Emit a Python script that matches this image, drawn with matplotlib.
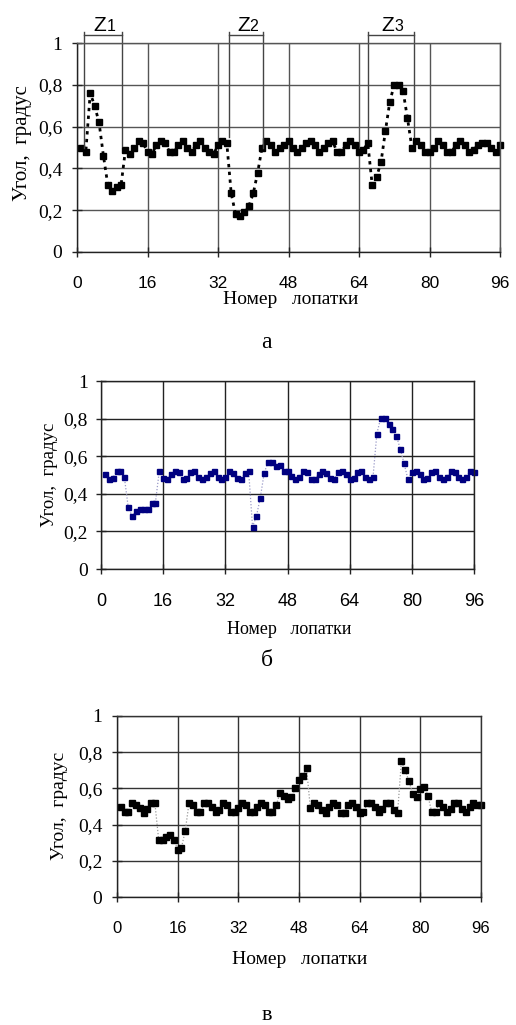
import matplotlib
matplotlib.use("Agg")
import matplotlib.pyplot as plt
import numpy as np

blades = list(range(1, 97))

angle_a = [0.50, 0.48, 0.76, 0.70, 0.62, 0.46, 0.32, 0.29, 0.31, 0.32,
           0.49, 0.47, 0.50, 0.53, 0.52, 0.48, 0.47, 0.51, 0.53, 0.52,
           0.48, 0.48, 0.51, 0.53, 0.50, 0.48, 0.51, 0.53, 0.50, 0.48,
           0.47, 0.51, 0.53, 0.52, 0.28, 0.18, 0.17, 0.19, 0.22, 0.28,
           0.38, 0.50, 0.53, 0.51, 0.48, 0.50, 0.51, 0.53, 0.50, 0.48,
           0.50, 0.52, 0.53, 0.51, 0.48, 0.50, 0.52, 0.53, 0.48, 0.48,
           0.51, 0.53, 0.51, 0.48, 0.49, 0.52, 0.32, 0.36, 0.43, 0.58,
           0.72, 0.80, 0.80, 0.77, 0.64, 0.50, 0.53, 0.51, 0.48, 0.48,
           0.50, 0.53, 0.51, 0.48, 0.48, 0.51, 0.53, 0.51, 0.48, 0.49,
           0.51, 0.52, 0.52, 0.50, 0.48, 0.51]

angle_b = [0.505, 0.477, 0.483, 0.52, 0.52, 0.49, 0.33, 0.28, 0.31, 0.32,
           0.317, 0.317, 0.35, 0.353, 0.52, 0.484, 0.477, 0.505, 0.52, 0.517,
           0.477, 0.484, 0.517, 0.52, 0.49, 0.477, 0.487, 0.51, 0.52, 0.49,
           0.477, 0.49, 0.52, 0.51, 0.484, 0.477, 0.51, 0.52, 0.226, 0.28,
           0.38, 0.51, 0.57, 0.57, 0.55, 0.555, 0.52, 0.52, 0.495, 0.477,
           0.49, 0.52, 0.517, 0.477, 0.477, 0.505, 0.52, 0.51, 0.484, 0.477,
           0.517, 0.52, 0.505, 0.477, 0.484, 0.517, 0.52, 0.49, 0.477, 0.487,
           0.72, 0.805, 0.805, 0.77, 0.747, 0.71, 0.64, 0.562, 0.477, 0.517,
           0.52, 0.505, 0.477, 0.484, 0.517, 0.52, 0.49, 0.477, 0.487, 0.52,
           0.517, 0.487, 0.477, 0.49, 0.52, 0.517]

angle_c = [0.50, 0.47, 0.47, 0.52, 0.51, 0.49, 0.465, 0.485, 0.517, 0.517,
           0.315, 0.315, 0.33, 0.34, 0.315, 0.262, 0.273, 0.365, 0.52, 0.51,
           0.47, 0.47, 0.517, 0.52, 0.495, 0.47, 0.48, 0.517, 0.51, 0.47,
           0.47, 0.49, 0.52, 0.51, 0.47, 0.47, 0.50, 0.52, 0.51, 0.47,
           0.47, 0.51, 0.572, 0.56, 0.54, 0.55, 0.60, 0.645, 0.67, 0.71,
           0.49, 0.52, 0.51, 0.48, 0.465, 0.50, 0.52, 0.51, 0.465, 0.465,
           0.51, 0.52, 0.495, 0.465, 0.47, 0.517, 0.517, 0.495, 0.47, 0.485,
           0.517, 0.517, 0.48, 0.465, 0.75, 0.70, 0.64, 0.57, 0.55, 0.595,
           0.61, 0.56, 0.47, 0.47, 0.52, 0.495, 0.47, 0.485, 0.517, 0.517,
           0.485, 0.47, 0.495, 0.52, 0.51, 0.51]

x_ticks = [0, 16, 32, 48, 64, 80, 96]
y_ticks = [0, 0.2, 0.4, 0.6, 0.8, 1.0]
y_tick_labels = ["0", "0,2", "0,4", "0,6", "0,8", "1"]

zones = ["1", "2", "3"]
zone_left = [1.6, 34.5, 66.1]
zone_right = [10.2, 42.3, 76.4]
zone_left_bottom = [0.50, 0.55, 0.54]
zone_right_bottom = [0.505, 0.50, 0.55]

ylabel = "Угол,  градус"
xlabel = "Номер   лопатки"
panel_letters = ["а", "б", "в"]

W, H = 516, 1025
fig = plt.figure(figsize=(W / 100, H / 100), dpi=100)

SERIF = "Liberation Serif"
SANS = "Liberation Sans"


def px_axes(l, r, t, b):
    return [l / W, 1 - b / H, (r - l) / W, (b - t) / H]


def setup(ax, gridc, xfs, yfs, ypad):
    ax.set_xlim(0, 96)
    ax.set_ylim(0, 1)
    ax.set_xticks(x_ticks)
    ax.set_yticks(y_ticks)
    ax.set_xticklabels([str(v) for v in x_ticks], fontfamily=SANS, fontsize=xfs)
    ax.set_yticklabels(y_tick_labels, fontfamily=SERIF, fontsize=yfs)
    ax.grid(True, color=gridc, linewidth=1.0)
    for s in ax.spines.values():
        s.set_color(gridc)
        s.set_linewidth(1.0)
    ax.spines["bottom"].set_color("#222222")
    ax.spines["left"].set_color("#222222")
    ax.tick_params(axis="x", direction="inout", length=7, width=1, pad=14, colors="#222222")
    ax.tick_params(axis="y", direction="inout", length=7, width=1, pad=ypad, colors="#222222")
    for lab in ax.get_xticklabels() + ax.get_yticklabels():
        lab.set_color("black")
    ax.set_axisbelow(True)


# Panel a
axa = fig.add_axes(px_axes(77, 500, 43, 252))
setup(axa, "#555555", 12.5, 14, 7)
axa.plot(blades, angle_a, color="black", linestyle=(0, (1.2, 1.6)), linewidth=2.0,
         marker="s", markersize=4.6, markerfacecolor="black", markeredgecolor="black",
         clip_on=False)
for z, xl, xr, bl, br in zip(zones, zone_left, zone_right, zone_left_bottom, zone_right_bottom):
    axa.plot([xl, xl], [bl, 1.053], color="#444444", lw=1.0, clip_on=False)
    axa.plot([xr, xr], [br, 1.053], color="#444444", lw=1.0, clip_on=False)
    axa.plot([xl, xr], [1.038, 1.038], color="#444444", lw=1.0, clip_on=False)
    cx = (xl + xr) / 2 + 0.6
    axa.text(cx + 0.2, 1.058, "Z", fontfamily=SANS, fontsize=15, ha="right", va="baseline")
    axa.text(cx + 0.2, 1.058, z, fontfamily=SANS, fontsize=11.5, ha="left", va="baseline")

# Panel b
axb = fig.add_axes(px_axes(101, 474, 381, 569))
setup(axb, "#222222", 13, 14, 6)
axb.plot(blades, angle_b, color="#9a9ac8", linestyle=(0, (1, 1.5)), linewidth=0.9,
         marker="s", markersize=3.6, markerfacecolor="#000080", markeredgecolor="#000080",
         clip_on=False)

# Panel c
axc = fig.add_axes(px_axes(117, 481, 716, 897))
setup(axc, "#333333", 12, 14, 7)
axc.plot(blades, angle_c, color="#999999", linestyle=(0, (1, 1.5)), linewidth=0.9,
         marker="s", markersize=4.4, markerfacecolor="black", markeredgecolor="black",
         clip_on=False)


def ftext(x, y, s, **kw):
    fig.text(x / W, 1 - y / H, s, ha="center", va="center", fontfamily=SERIF, **kw)


ftext(23, 143, ylabel, fontsize=15, rotation=90)
ftext(49, 475, ylabel, fontsize=13.5, rotation=90)
ftext(60, 806, ylabel, fontsize=14, rotation=90)

ftext(291, 300, xlabel, fontsize=14)
ftext(289, 629, xlabel, fontsize=13)
ftext(300, 960, xlabel, fontsize=14)

ftext(266, 342, panel_letters[0], fontsize=17)
ftext(267, 661, panel_letters[1], fontsize=17)
ftext(267, 1015, panel_letters[2], fontsize=16)

fig.savefig("out.png", dpi=100, facecolor="white")
